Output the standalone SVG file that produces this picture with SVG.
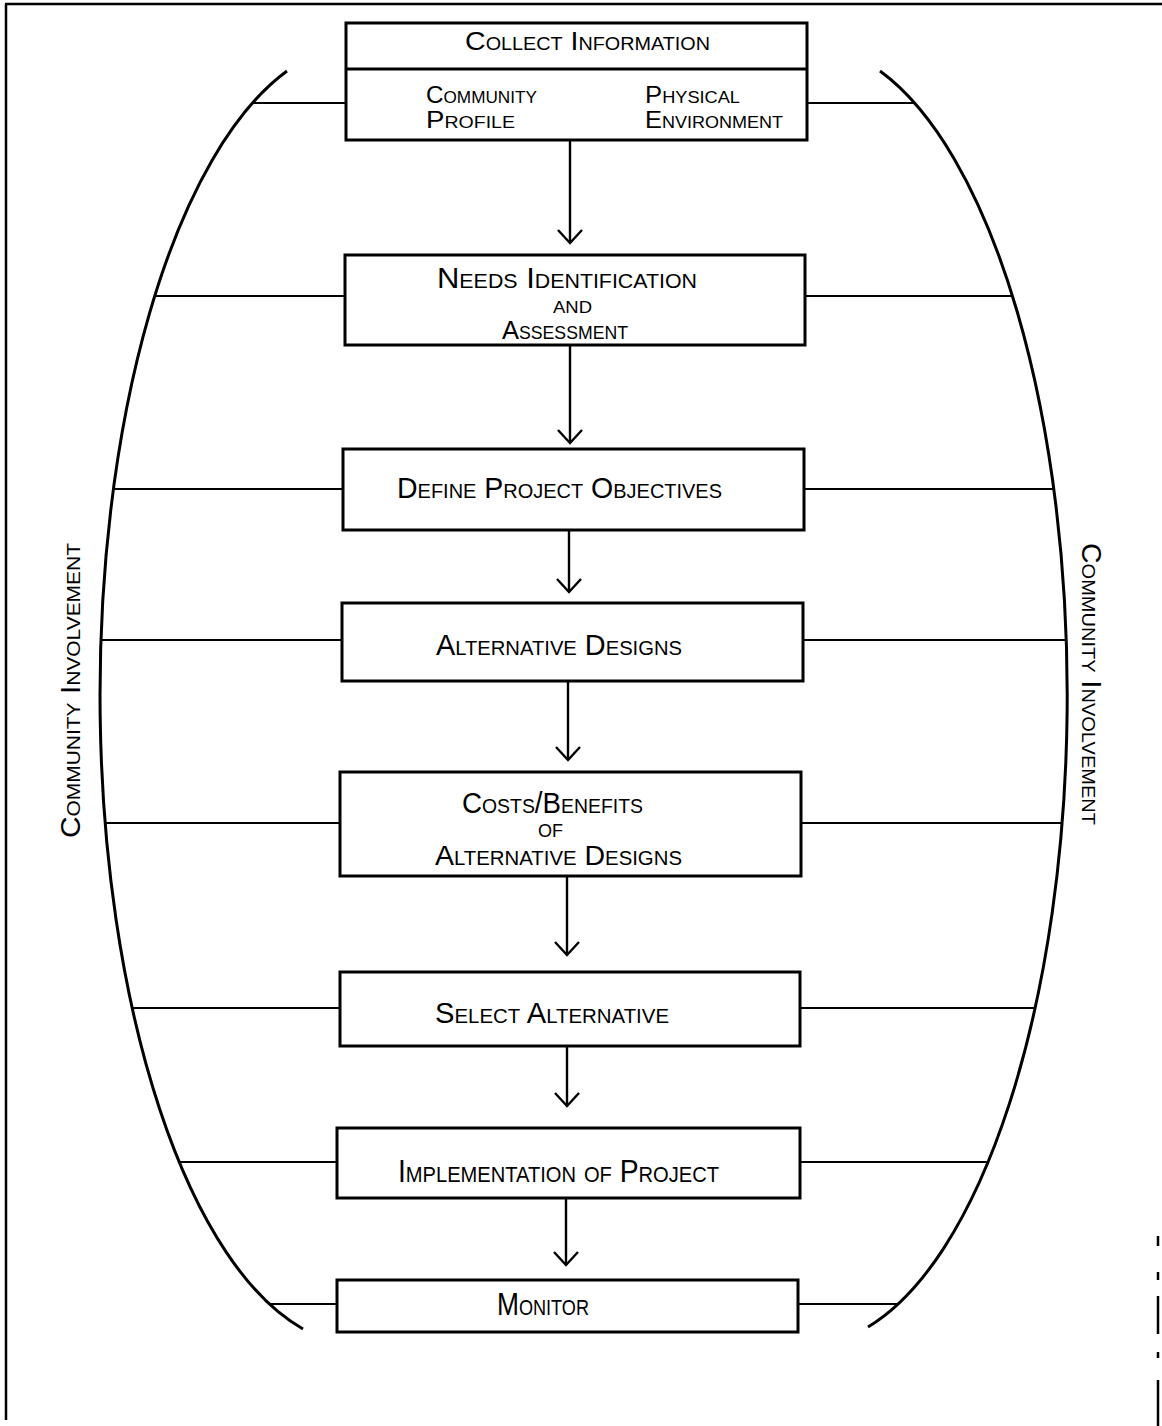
<svg xmlns="http://www.w3.org/2000/svg" width="1162" height="1426" viewBox="0 0 1162 1426">
<style>
.frame{stroke:#000;stroke-width:2.5;fill:none}
.box{fill:#fff;stroke:#000;stroke-width:3}
.arc{fill:none;stroke:#000;stroke-width:3}
.tie{stroke:#000;stroke-width:2.2;fill:none}
.flow{stroke:#000;stroke-width:2.4;fill:none;marker-end:url(#v)}
.lbl{font-family:"Liberation Sans Narrow","Liberation Sans",Arial,sans-serif;font-variant:small-caps;fill:#000}
.up{font-family:"Liberation Sans Narrow","Liberation Sans",Arial,sans-serif;fill:#000}
</style>
<defs>
<marker id="v" markerUnits="userSpaceOnUse" viewBox="-15 -15 17 30" markerWidth="17" markerHeight="30" refX="0" refY="0" orient="auto">
<path d="M-13,-12 L0,0 L-13,12" fill="none" stroke="#000" stroke-width="2.4"/>
</marker>
</defs>
<rect width="1162" height="1426" fill="#fff"/>
<g id="frame">
<line class="frame" x1="5" y1="4" x2="1162" y2="4"/>
<line class="frame" x1="6" y1="4" x2="6" y2="1420"/>
<line class="frame" x1="1158" y1="1236" x2="1158" y2="1246"/>
<line class="frame" x1="1158" y1="1272" x2="1158" y2="1280"/>
<line class="frame" x1="1158" y1="1296" x2="1158" y2="1334"/>
<line class="frame" x1="1158" y1="1352" x2="1158" y2="1358"/>
<line class="frame" x1="1158" y1="1380" x2="1158" y2="1426"/>
</g>
<g id="connectors">
<path class="arc" d="M287,71 A260,650 0 0 0 303,1329"/>
<path class="arc" d="M880,71 A260,650 0 0 1 868,1327"/>
<line class="tie" x1="253" y1="103" x2="346" y2="103"/>
<line class="tie" x1="807" y1="103" x2="914" y2="103"/>
<line class="tie" x1="155" y1="296" x2="345" y2="296"/>
<line class="tie" x1="805" y1="296" x2="1012" y2="296"/>
<line class="tie" x1="113" y1="489" x2="343" y2="489"/>
<line class="tie" x1="804" y1="489" x2="1054" y2="489"/>
<line class="tie" x1="101" y1="640" x2="342" y2="640"/>
<line class="tie" x1="803" y1="640" x2="1066" y2="640"/>
<line class="tie" x1="105" y1="823" x2="340" y2="823"/>
<line class="tie" x1="801" y1="823" x2="1062" y2="823"/>
<line class="tie" x1="132" y1="1008" x2="340" y2="1008"/>
<line class="tie" x1="800" y1="1008" x2="1035" y2="1008"/>
<line class="tie" x1="179" y1="1162" x2="337" y2="1162"/>
<line class="tie" x1="800" y1="1162" x2="988" y2="1162"/>
<line class="tie" x1="269" y1="1304" x2="337" y2="1304"/>
<line class="tie" x1="798" y1="1304" x2="898" y2="1304"/>
<line class="flow" x1="570" y1="140" x2="570" y2="243"/>
<line class="flow" x1="570" y1="345" x2="570" y2="443"/>
<line class="flow" x1="569" y1="530" x2="569" y2="592"/>
<line class="flow" x1="568" y1="681" x2="568" y2="760"/>
<line class="flow" x1="567" y1="876" x2="567" y2="955"/>
<line class="flow" x1="567" y1="1046" x2="567" y2="1106"/>
<line class="flow" x1="566" y1="1198" x2="566" y2="1265"/>
</g>
<g id="collect">
<rect class="box" x="346" y="23" width="461" height="117"/>
<line class="box" x1="346" y1="69" x2="807" y2="69"/>
<text class="lbl" x="465" y="50" font-size="26" textLength="245" lengthAdjust="spacingAndGlyphs">Collect Information</text>
<text class="lbl" x="426" y="103" font-size="24" textLength="111" lengthAdjust="spacingAndGlyphs">Community</text>
<text class="lbl" x="426" y="128" font-size="24" textLength="89" lengthAdjust="spacingAndGlyphs">Profile</text>
<text class="lbl" x="645" y="103" font-size="24" textLength="95" lengthAdjust="spacingAndGlyphs">Physical</text>
<text class="lbl" x="645" y="128" font-size="24" textLength="138" lengthAdjust="spacingAndGlyphs">Environment</text>
</g>
<g id="needs">
<rect class="box" x="345" y="255" width="460" height="90"/>
<text class="lbl" x="437" y="288" font-size="29" textLength="260" lengthAdjust="spacingAndGlyphs">Needs Identification</text>
<text class="up" x="553" y="313" font-size="17" textLength="39" lengthAdjust="spacingAndGlyphs">AND</text>
<text class="lbl" x="502" y="339" font-size="26" textLength="126" lengthAdjust="spacingAndGlyphs">Assessment</text>
</g>
<g id="objectives">
<rect class="box" x="343" y="449" width="461" height="81"/>
<text class="lbl" x="397" y="498" font-size="30" textLength="325" lengthAdjust="spacingAndGlyphs">Define Project Objectives</text>
</g>
<g id="alternatives">
<rect class="box" x="342" y="603" width="461" height="78"/>
<text class="lbl" x="436" y="655" font-size="30" textLength="246" lengthAdjust="spacingAndGlyphs">Alternative Designs</text>
</g>
<g id="costs">
<rect class="box" x="340" y="772" width="461" height="104"/>
<text class="lbl" x="462" y="813" font-size="30" textLength="181" lengthAdjust="spacingAndGlyphs">Costs/Benefits</text>
<text class="up" x="538" y="837" font-size="19" textLength="25" lengthAdjust="spacingAndGlyphs">OF</text>
<text class="lbl" x="435" y="865" font-size="28" textLength="247" lengthAdjust="spacingAndGlyphs">Alternative Designs</text>
</g>
<g id="select">
<rect class="box" x="340" y="972" width="460" height="74"/>
<text class="lbl" x="435" y="1023" font-size="30" textLength="234" lengthAdjust="spacingAndGlyphs">Select Alternative</text>
</g>
<g id="implementation">
<rect class="box" x="337" y="1128" width="463" height="70"/>
<text class="lbl" x="398" y="1182" font-size="31" textLength="321" lengthAdjust="spacingAndGlyphs">Implementation of Project</text>
</g>
<g id="monitor">
<rect class="box" x="337" y="1280" width="461" height="52"/>
<text class="lbl" x="497" y="1315" font-size="32" textLength="92" lengthAdjust="spacingAndGlyphs">Monitor</text>
</g>
<g id="involvement-left">
<text class="lbl" transform="translate(80,838) rotate(-90)" x="0" y="0" font-size="27" textLength="295" lengthAdjust="spacingAndGlyphs">Community Involvement</text>
</g>
<g id="involvement-right">
<text class="lbl" transform="translate(1082,543) rotate(90)" x="0" y="0" font-size="27" textLength="282" lengthAdjust="spacingAndGlyphs">Community Involvement</text>
</g>
</svg>
